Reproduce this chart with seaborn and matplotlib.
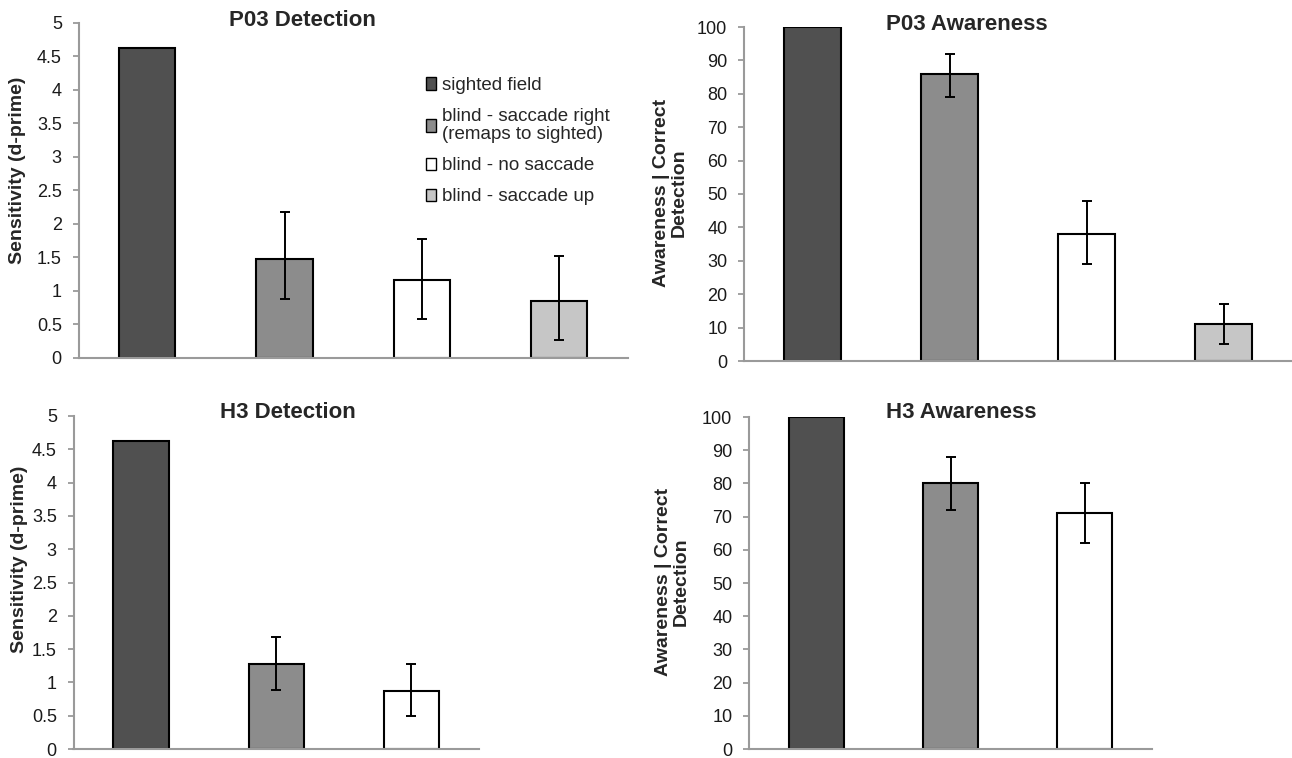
import numpy as np
import pandas as pd
import matplotlib
matplotlib.use("Agg")
import matplotlib.pyplot as plt
import seaborn as sns
from matplotlib.patches import Patch

# conditions and bar fills
conditions = ["sighted field", "blind - saccade right\n(remaps to sighted)",
              "blind - no saccade", "blind - saccade up"]
bar_colors = ["#505050", "#8c8c8c", "#ffffff", "#c6c6c6"]

# P03 detection (d-prime), error bar ends (None = no error bar)
p03_det = [4.62, 1.47, 1.16, 0.85]
p03_det_lo = [None, 0.88, 0.58, 0.27]
p03_det_hi = [None, 2.18, 1.78, 1.52]

# P03 awareness | correct detection (%)
p03_aw = [100, 86, 38, 11]
p03_aw_lo = [None, 79, 29, 5]
p03_aw_hi = [None, 92, 48, 17]

# H3 detection
h3_det = [4.62, 1.28, 0.87]
h3_det_lo = [None, 0.89, 0.49]
h3_det_hi = [None, 1.68, 1.27]

# H3 awareness
h3_aw = [100, 80, 71]
h3_aw_lo = [None, 72, 62]
h3_aw_hi = [None, 88, 80]

sns.set_theme(style="white")
plt.rcParams["font.family"] = ["Liberation Sans", "DejaVu Sans"]

W, H = 1292, 758
fig = plt.figure(figsize=(W / 100, H / 100), dpi=100)
spine_grey = "#9a9a9a"


def px_rect(x0, x1, y_top, y_bot):
    return [x0 / W, 1 - y_bot / H, (x1 - x0) / W, (y_bot - y_top) / H]


def panel(rect, vals, lo, hi, ymax, step, title, title_px, ylabel, ylabel_px):
    ax = fig.add_axes(rect)
    n = len(vals)
    df = pd.DataFrame({"cond": conditions[:n], "val": vals})
    sns.barplot(data=df, x="cond", y="val", hue="cond", palette=bar_colors[:n],
                width=0.41, saturation=1, edgecolor="black", linewidth=1.5,
                errorbar=None, legend=False, ax=ax)
    for i in range(n):
        if lo[i] is None:
            continue
        ax.errorbar(i, vals[i], yerr=[[vals[i] - lo[i]], [hi[i] - vals[i]]],
                    fmt="none", ecolor="black", elinewidth=1.4, capsize=3.6,
                    capthick=1.4, zorder=5)
    ax.set_ylim(0, ymax)
    ax.set_xlim(-0.5, n - 0.5)
    ticks = np.arange(0, ymax + step / 2, step)
    ax.set_yticks(ticks)
    ax.set_yticklabels(["%g" % t for t in ticks], fontsize=13, color="#1a1a1a")
    ax.set_xticks([])
    ax.set_xlabel("")
    ax.set_ylabel("")
    ax.tick_params(axis="y", left=True, length=4, width=1.3, color=spine_grey, pad=8)
    for s in ["top", "right"]:
        ax.spines[s].set_visible(False)
    for s in ["left", "bottom"]:
        ax.spines[s].set_color(spine_grey)
        ax.spines[s].set_linewidth(1.5)
    fig.text(title_px[0] / W, 1 - title_px[1] / H, title, fontsize=16,
             fontweight="bold", ha="center", va="center")
    fig.text(ylabel_px[0] / W, 1 - ylabel_px[1] / H, ylabel, fontsize=14,
             fontweight="bold", rotation=90, ha="center", va="center",
             multialignment="center", linespacing=1.05)
    return ax


ax1 = panel(px_rect(78.5, 628, 22.7, 358), p03_det, p03_det_lo, p03_det_hi, 5, 0.5,
            "P03 Detection", (302, 20.5), "Sensitivity (d-prime)", (18, 170))
ax2 = panel(px_rect(744, 1292, 27, 361), p03_aw, p03_aw_lo, p03_aw_hi, 100, 10,
            "P03 Awareness", (967, 24), "Awareness | Correct\nDetection", (670, 193))
ax3 = panel(px_rect(73.5, 479, 416, 749), h3_det, h3_det_lo, h3_det_hi, 5, 0.5,
            "H3 Detection", (288, 413), "Sensitivity (d-prime)", (19.5, 559))
ax4 = panel(px_rect(749, 1152, 417, 749), h3_aw, h3_aw_lo, h3_aw_hi, 100, 10,
            "H3 Awareness", (961, 413), "Awareness | Correct\nDetection", (672, 582))

handles = [Patch(facecolor=c, edgecolor="black", linewidth=1.0) for c in bar_colors]
leg = ax1.legend(handles, conditions, loc="upper left",
                 bbox_to_anchor=(426 / W, 1 - 77 / H), bbox_transform=fig.transFigure,
                 frameon=False, fontsize=13.5, handlelength=0.55, handleheight=0.65,
                 handletextpad=0.3, labelspacing=0.75, borderpad=0, borderaxespad=0)
for t in leg.get_texts():
    t.set_linespacing(1.1)

fig.savefig("out.png", dpi=100)
